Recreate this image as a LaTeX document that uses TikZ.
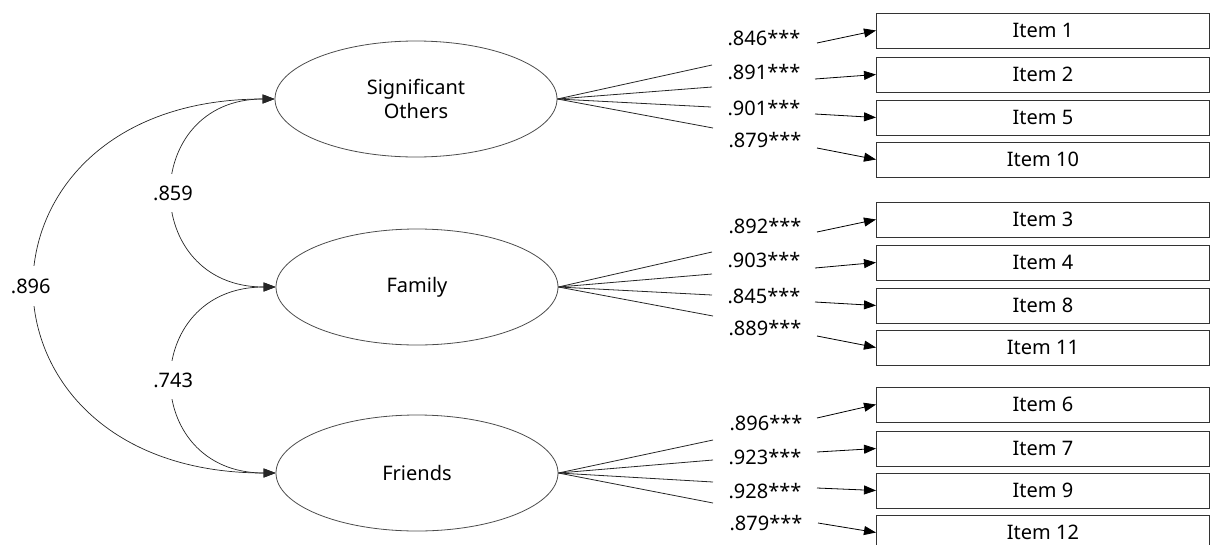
\documentclass[tikz,border=0pt]{standalone}
\usepackage{fontspec}
\setmainfont{Noto Sans}
\usetikzlibrary{shapes.geometric,arrows.meta}
\begin{document}
\begin{tikzpicture}[x=1pt,y=-1pt,
  font=\fontsize{20}{24}\selectfont,
  lat/.style={draw=black!70, line width=0.8pt, ellipse, minimum width=282pt, minimum height=116pt, inner sep=0pt, align=center},
  itembox/.style={draw=black!80, line width=0.9pt, rectangle, minimum width=333pt, minimum height=35pt, inner sep=0pt, anchor=west},
  lab/.style={inner sep=0pt},
  fan/.style={draw=black!85, line width=0.8pt},
  arr/.style={draw=black, line width=0.8pt, -{Triangle[length=12pt,width=9pt]}},
  cov/.style={draw=black!85, line width=0.7pt, {Triangle[length=12pt,width=9pt]}-{Triangle[length=12pt,width=9pt]}},
  covlab/.style={fill=white, inner xsep=2pt, inner ysep=#1},
  covlab/.default=12pt
]
\useasboundingbox (0,0) rectangle (1210,544);
\clip (0,0) rectangle (1210,544);

% latent variables
\node[lat] (SO) at (416,99) {Significant\\Others};
\node[lat] (FA) at (417,287) {Family};
\node[lat] (FR) at (417,473) {Friends};

% items
\node[itembox] (i1)  at (876,30.5)  {Item 1};
\node[itembox] (i2)  at (876,74.5)  {Item 2};
\node[itembox] (i5)  at (876,117.5) {Item 5};
\node[itembox] (i10) at (876,159.5) {Item 10};
\node[itembox] (i3)  at (876,219.5) {Item 3};
\node[itembox] (i4)  at (876,262.5) {Item 4};
\node[itembox] (i8)  at (876,305.5) {Item 8};
\node[itembox] (i11) at (876,347.5) {Item 11};
\node[itembox] (i6)  at (876,404.5) {Item 6};
\node[itembox] (i7)  at (876,448.5) {Item 7};
\node[itembox] (i9)  at (876,490.5) {Item 9};
\node[itembox] (i12) at (876,532.5) {Item 12};

% loading labels
\node[lab] (l1)  at (764,38)    {.846***};
\node[lab] (l2)  at (764,72.5)  {.891***};
\node[lab] (l5)  at (764,108)   {.901***};
\node[lab] (l10) at (765,140)   {.879***};
\node[lab] (l3)  at (765,226)   {.892***};
\node[lab] (l4)  at (764,260)   {.903***};
\node[lab] (l8)  at (764,296)   {.845***};
\node[lab] (l11) at (765,328)   {.889***};
\node[lab] (l6)  at (766,423.5) {.896***};
\node[lab] (l7)  at (765,457)   {.923***};
\node[lab] (l9)  at (765,491.5) {.928***};
\node[lab] (l12) at (766,523.5) {.879***};

% fan line ends
\coordinate (f1)  at (712,65);
\coordinate (f2)  at (712,87);
\coordinate (f5)  at (711,107);
\coordinate (f10) at (713,128);
\coordinate (f3)  at (712,252);
\coordinate (f4)  at (712,274);
\coordinate (f8)  at (712,295);
\coordinate (f11) at (713,316);
\coordinate (f6)  at (713,440);
\coordinate (f7)  at (713,460);
\coordinate (f9)  at (713,482);
\coordinate (f12) at (713,503);

% arrow starts
\coordinate (a1)  at (817,43);
\coordinate (a2)  at (815,79);
\coordinate (a5)  at (815,114);
\coordinate (a10) at (817,148);
\coordinate (a3)  at (817,232);
\coordinate (a4)  at (815,268);
\coordinate (a8)  at (815,302);
\coordinate (a11) at (817,336);
\coordinate (a6)  at (817,418);
\coordinate (a7)  at (817,452);
\coordinate (a9)  at (817,488);
\coordinate (a12) at (818,523);

\foreach \k in {1,2,5,10} {\draw[fan] (SO.east) -- (f\k); \draw[arr] (a\k) -- (i\k.west);}
\foreach \k in {3,4,8,11} {\draw[fan] (FA.east) -- (f\k); \draw[arr] (a\k) -- (i\k.west);}
\foreach \k in {6,7,9,12} {\draw[fan] (FR.east) -- (f\k); \draw[arr] (a\k) -- (i\k.west);}

% covariances
\draw[cov] (SO.west) .. controls (139,99) and (139,287) .. node[covlab=12pt] (c1) {.859} (FA.west);
\draw[cov] (FA.west) .. controls (139,287) and (139,473) .. node[covlab=12pt] (c2) {.743} (FR.west);
\draw[cov] (SO.west) .. controls (-44,99) and (-44,473) .. node[covlab=13pt, xshift=-5pt] (c3) {.896} (FR.west);
\end{tikzpicture}
\end{document}
